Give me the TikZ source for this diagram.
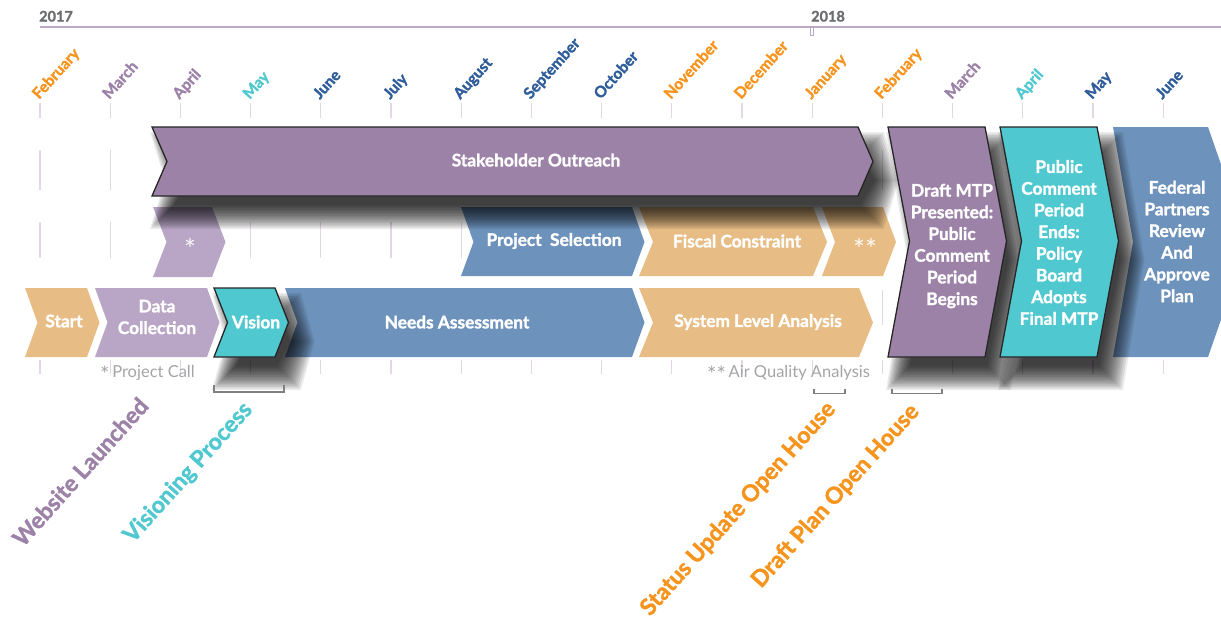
\documentclass[tikz,border=0pt]{standalone}
\usepackage{fontspec}
\setmainfont{Lato}[BoldFeatures={FakeBold=1.6}]
\definecolor{cPurple}{HTML}{9D82A8}
\definecolor{cLilac}{HTML}{B9A6C7}
\definecolor{cBlue}{HTML}{6D92BB}
\definecolor{cTan}{HTML}{E8BD85}
\definecolor{cCyan}{HTML}{50C8D0}
\definecolor{cOrange}{HTML}{F7941D}
\definecolor{cNavy}{HTML}{2F5D9A}
\definecolor{cGray}{HTML}{A5A5A8}
\definecolor{cYear}{HTML}{6D6E71}
\definecolor{cLine}{HTML}{BBA9C9}
\definecolor{cGrid}{HTML}{E2D7E6}
\definecolor{cBracket}{HTML}{808083}
\newcommand{\bigast}[1]{\raisebox{-5pt}{\fontsize{22}{22}\selectfont #1}}
% chevron: [style] x1 x2 y1 y2 depth ymid
\newcommand{\chev}[7][]{\fill[#1] (#2,#4) -- (#3,#4) -- ({#3+#6},#7) -- (#3,#5) -- (#2,#5) -- ({#2+#6},#7) -- cycle;}
% soft shadow of a chevron: x1 x2 y1 y2 depth ymid
\newcommand{\chevshadow}[6]{\foreach \e in {-10,-8.5,...,14}{\fill[softshad] ({#1-\e},{#3-\e}) -- ({#2+\e},{#3-\e}) -- ({#2+#5+\e},#6) -- ({#2+\e},{#4+\e}) -- ({#1-\e},{#4+\e}) -- ({#1+#5-\e},#6) -- cycle;}}
\begin{document}
\begin{tikzpicture}[x=1pt,y=-1pt,
 month/.style={rotate=48, anchor=base west, inner sep=0pt, font=\bfseries\fontsize{15.5}{15.5}\selectfont},
 year/.style={anchor=base west, inner sep=0pt, text=cYear, font=\bfseries\fontsize{14.5}{14.5}\selectfont},
 gridline/.style={draw=cGrid, line width=1.2pt},
 boxtext/.style={text=white, font=\bfseries\fontsize{17.3}{21.7}\selectfont, align=center, inner sep=0pt},
 outl/.style={draw=black!85, line width=1.3pt, line join=miter},
 softshad/.style={black, fill opacity=0.075, shift={(12,19)}},
 note/.style={text=cGray, font=\fontsize{16.5}{16.5}\selectfont, inner sep=0pt, anchor=base west},
 astfont/.style={font=\fontsize{28}{28}\selectfont},
 biglabel/.style={rotate=48, anchor=base west, inner sep=0pt, font=\bfseries\fontsize{23}{23}\selectfont},
 bracket/.style={draw=cBracket, line width=1.2pt},
]
\useasboundingbox (0,0) rectangle (1221,627);
\fill[white] (0,0) rectangle (1221,627);

% grid lines
\foreach \i in {0,...,16}{
  \pgfmathsetmacro\gx{40+70.2*\i}
  \draw[gridline] (\gx,103) -- (\gx,118);
  \draw[gridline] (\gx,150) -- (\gx,190);
  \draw[gridline] (\gx,222) -- (\gx,258);
  \draw[gridline] (\gx,290) -- (\gx,325);
  \draw[gridline] (\gx,360) -- (\gx,374);
}

% timeline
\draw[cLine, line width=1.5pt] (40,27) -- (1221,27);
\draw[cLine, line width=1pt] (810,27) -- (810,35) -- (813,35) -- (813,27);
\node[year] (y2017) at (39,21.5) {2017};
\node[year] (y2018) at (811,21.5) {2018};

% months
\foreach \m/\c [count=\i from 0] in {February/cOrange, March/cPurple, April/cPurple, May/cCyan, June/cNavy, July/cNavy, August/cNavy, September/cNavy, October/cNavy, November/cOrange, December/cOrange, January/cOrange, February/cOrange, March/cPurple, April/cCyan, May/cNavy, June/cNavy}{
  \node[month, text=\c] (m\i) at ({39+70.2*\i}, 100) {\m};
}

% row 3
\chev[cTan]{25}{87}{288}{357}{12.5}{322.5}
\node[boxtext] (start) at (64,321) {Start};
\chev[cLilac]{95}{207}{288}{357}{12.5}{322.5}
\node[boxtext] (data) at (157,317) {Data\\Collection};
\chev[cBlue]{285}{632}{288}{357}{12.5}{322.5}
\node[boxtext] (needs) at (457,322) {Needs Assessment};
\chev[cTan]{639}{859}{288}{357}{14}{322.5}
\node[boxtext] (sla) at (758,322) {System Level Analysis};

% row 2
\chev[cLilac]{153}{212}{207}{277}{13.5}{242}
\node[text=white!92!cLilac, astfont, inner sep=0pt] (star) at (190,249) {*};
\chev[cBlue]{461}{632}{207}{276}{12.5}{242}
\node[boxtext] (psel) at (554,241) {Project\ \ Selection};
\chev[cTan]{639}{813}{207}{276}{14}{242}
\node[boxtext] (fiscal) at (737,241) {Fiscal Constraint};
\chev[cTan]{822}{883}{207}{276}{13}{242}
\node[text=white!92!cTan, astfont, inner sep=0pt] (dstar) at (865,249) {**};

% federal
\fill[cBlue] (1113,127) -- (1208,127) -- (1248,242) -- (1208,357) -- (1113,357) -- (1133,242) -- cycle;
\node[boxtext] (fed) at (1177,241.5) {Federal\\Partners\\Review\\And\\Approve\\Plan};

% shadowed outlined shapes
\chevshadow{152}{858}{127}{196}{15}{161.5}
\chev[cPurple, outl]{152}{858}{127}{196}{15}{161.5}
\node[boxtext] (stake) at (536,160) {Stakeholder Outreach};
\chevshadow{214}{275}{288}{357}{13.5}{322.5}
\chev[cCyan, outl]{214}{275}{288}{357}{13.5}{322.5}
\node[boxtext] (vision) at (256,322) {Vision};
\chevshadow{888}{985}{127}{357}{21.5}{241}
\chev[cPurple, outl]{888}{985}{127}{357}{21.5}{241}
\node[boxtext] (draft) at (952,246) {Draft MTP\\Presented:\\Public\\Comment\\Period\\Begins};
\chevshadow{1000}{1097}{127}{357}{21.5}{241}
\chev[cCyan, outl]{1000}{1097}{127}{357}{21.5}{241}
\node[boxtext] (pce) at (1059,242.5) {Public\\Comment\\Period\\Ends:\\Policy\\Board\\Adopts\\Final MTP};

% notes
\node[note] (pcall) at (100,377) {\bigast{*}\,Project Call};
\node[note] (aqa) at (707,377) {\bigast{**}\,Air Quality Analysis};

% brackets
\draw[bracket] (214,385) -- (214,392) -- (284,392) -- (284,385);
\draw[bracket] (814,389) -- (814,393.5) -- (845,393.5) -- (845,389);
\draw[bracket] (892,389) -- (892,393.5) -- (942,393.5) -- (942,389);

% big labels
\node[biglabel, text=cPurple] (web) at (23,548) {Website Launched};
\node[biglabel, text=cCyan] (visp) at (133,544) {Visioning Process};
\node[biglabel, text=cOrange] (suoh) at (650,617) {Status Update Open House};
\node[biglabel, text=cOrange] (dpoh) at (761,589) {Draft Plan Open House};
\end{tikzpicture}
\end{document}
